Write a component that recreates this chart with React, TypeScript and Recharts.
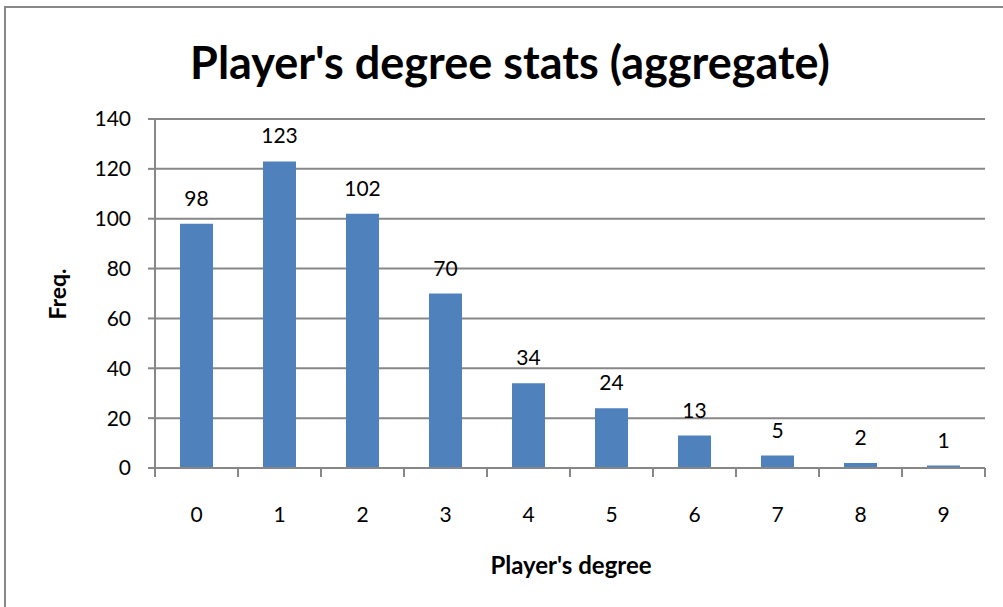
import React from 'react';
import { BarChart, Bar, XAxis, YAxis, CartesianGrid, LabelList } from 'recharts';

const degrees = ['0', '1', '2', '3', '4', '5', '6', '7', '8', '9'];
const freqs = [98, 123, 102, 70, 34, 24, 13, 5, 2, 1];
const yTicks = [0, 20, 40, 60, 80, 100, 120, 140];

const data = degrees.map((d, i) => ({ degree: d, freq: freqs[i] }));

const FONT = 'Lato, "Open Sans", sans-serif';
const GRAY = '#878787';

const XTick = (props: any) => {
  const { x, y, payload, index } = props;
  const half = payload && payload.offset ? payload.offset : 41.5;
  const axisY = y - 39;
  return (
    <g>
      {index === 0 && (
        <line x1={x - half} x2={x - half} y1={axisY} y2={axisY + 9} stroke={GRAY} strokeWidth={2} />
      )}
      <line x1={x + half} x2={x + half} y1={axisY} y2={axisY + 9} stroke={GRAY} strokeWidth={2} />
      <text x={x} y={y} dy="0.71em" textAnchor="middle" fontSize={21} fill="#000" fontFamily={FONT}>
        {payload.value}
      </text>
    </g>
  );
};

export default function App() {
  return (
    <div style={{ position: 'absolute', left: 0, top: 0, width: 1003, height: 607, overflow: 'hidden', background: '#fff' }}>
      <div style={{ position: 'absolute', left: 4, top: 6, width: 1100, height: 700, border: `2px solid ${GRAY}`, boxSizing: 'border-box' }} />
      <div style={{ position: 'absolute', left: 0, top: 0 }}>
        <BarChart width={1003} height={607} data={data} margin={{ top: 119, right: 18, bottom: 99, left: 95 }}>
          <CartesianGrid vertical={false} stroke={GRAY} strokeWidth={2} />
          <XAxis
            dataKey="degree"
            height={40}
            axisLine={{ stroke: GRAY, strokeWidth: 2 }}
            tickLine={false}
            tickSize={9}
            tickMargin={30}
            interval={0}
            tick={<XTick />}
          />
          <YAxis
            width={60}
            domain={[0, 140]}
            ticks={yTicks}
            interval={0}
            axisLine={{ stroke: GRAY, strokeWidth: 2 }}
            tickLine={{ stroke: GRAY, strokeWidth: 2 }}
            tickSize={7}
            tickMargin={17}
            tick={{ fontSize: 21, fill: '#000', fontFamily: FONT }}
          />
          <Bar dataKey="freq" fill="#4f81bd" barSize={33} isAnimationActive={false}>
            <LabelList dataKey="freq" position="top" offset={18} fontSize={21} fill="#000" fontFamily={FONT} />
          </Bar>
        </BarChart>
      </div>
      <div style={{ position: 'absolute', left: 0, width: 1020, top: 33, textAlign: 'center', fontFamily: FONT, fontWeight: 'bold', fontSize: 45, lineHeight: '58px', color: '#000' }}>
        Player's degree stats (aggregate)
      </div>
      <div style={{ position: 'absolute', left: 371, width: 400, top: 550, textAlign: 'center', fontFamily: FONT, fontWeight: 'bold', fontSize: 24, lineHeight: '30px', color: '#000' }}>
        Player's degree
      </div>
      <div style={{ position: 'absolute', left: 57 - 50, top: 294 - 15, width: 100, height: 30, textAlign: 'center', transform: 'rotate(-90deg)', fontFamily: FONT, fontWeight: 'bold', fontSize: 23, lineHeight: '30px', color: '#000' }}>
        Freq.
      </div>
    </div>
  );
}
